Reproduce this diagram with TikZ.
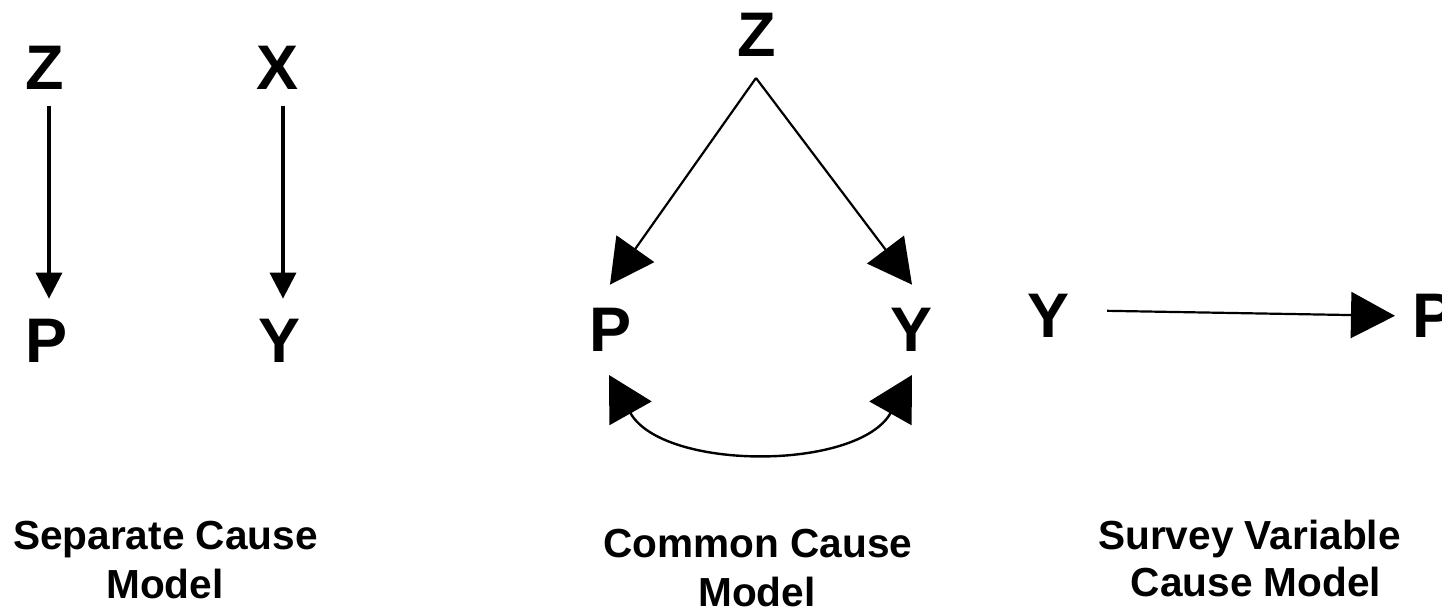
\documentclass[tikz,border=0pt]{standalone}
\usepackage{fontspec}
\setmainfont{Liberation Sans}
\usetikzlibrary{arrows.meta,calc}
\tikzset{
  letter/.style={inner sep=0pt, outer sep=0pt, anchor=base, font=\fontsize{31.5pt}{36pt}\selectfont\bfseries},
  caption/.style={inner sep=0pt, outer sep=0pt, anchor=base, font=\fontsize{20.3pt}{24pt}\selectfont\bfseries},
  thickarr/.style={line width=1.75pt, -{Triangle[length=13pt,width=13pt]}},
  bigarr/.style={line width=1.1pt, -{Triangle[length=22pt,width=23pt]}},
  bigboth/.style={line width=1.2pt, {Triangle[length=22pt,width=24pt]}-{Triangle[length=22pt,width=24pt]}}
}
\begin{document}
\begin{tikzpicture}[x=0.5pt,y=-0.5pt]
\useasboundingbox[fill=white] (0,0) rectangle (1442,613);
% Separate cause model
\node[letter] (zl) at (44.5,90) {Z};
\node[letter] (xl) at (278,90) {X};
\node[letter] (pl) at (47,363) {P};
\node[letter] (yl) at (280,363) {Y};
\draw[thickarr] ($(zl.south)+(4.5,16)$) -- ($(pl.north)+(2,-21)$);
\draw[thickarr] ($(xl.south)+(5,16)$) -- ($(yl.north)+(3,-21)$);
% Common cause model
\node[letter] (zm) at (756.5,57) {Z};
\node[letter] (pm) at (611,352) {P};
\node[letter] (ym) at (912,352) {Y};
\coordinate (apex) at ($(zm.south)+(-0.5,21)$);
\draw[bigarr] (apex) -- ($(pm.north)+(-1,-24)$);
\draw[bigarr] (apex) -- ($(ym.north)+(0,-24)$);
\draw[bigboth] ($(pm.south)+(-2,23)$) .. controls +(54,96) and +(-54,96) .. ($(ym.south)+(0,23)$);
% Survey variable cause model
\node[letter] (yr) at (1049,338) {Y};
\node[letter, anchor=base west] (pr) at (1412,338) {P};
\draw[bigarr] ($(yr.east)+(37,-5.5)$) -- ($(pr.west)+(-17,-0.5)$);
% Captions
\node[caption] (c1a) at (165.5,550) {Separate Cause};
\node[caption] (c1b) at (165,599) {Model};
\node[caption] (c2a) at (758,558) {Common Cause};
\node[caption] (c2b) at (757,607) {Model};
\node[caption] (c3a) at (1249.5,550) {Survey Variable};
\node[caption] (c3b) at (1256,597) {Cause Model};
\end{tikzpicture}
\end{document}
